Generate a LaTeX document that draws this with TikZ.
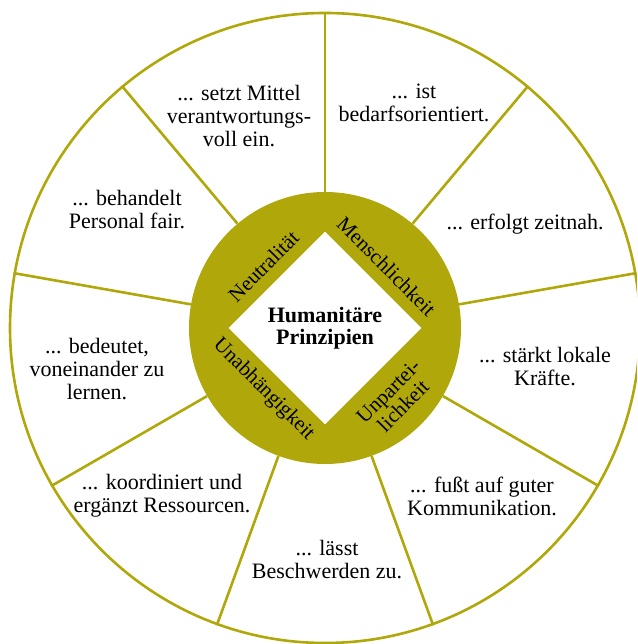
\documentclass[tikz,border=0pt]{standalone}
\usepackage{fontspec}
\setmainfont{Liberation Serif}
\usetikzlibrary{shapes.geometric,calc}
\definecolor{hpolive}{RGB}{176,167,11}
\begin{document}
\begin{tikzpicture}[x=1pt,y=1pt,
  spoke/.style={draw=hpolive,line width=2.6pt},
  txt/.style={align=center,font=\fontsize{22}{23}\selectfont,inner sep=0pt},
  ring/.style={align=center,font=\fontsize{21}{21}\selectfont,inner sep=0pt}]
\useasboundingbox (0,0) rectangle (637,644);
\clip (0,0) rectangle (637,644);
\coordinate (c) at (325,316);
\node[circle,draw=hpolive,line width=2.6pt,minimum size=630pt,inner sep=0pt] (outer) at (c) {};
\node[circle,fill=hpolive,minimum size=272pt,inner sep=0pt] (inner) at (c) {};
\foreach \a in {90,50,10,-30,-70,-110,-150,170,130}
  \draw[spoke] (inner.\a) -- (outer.\a);
\node[diamond,aspect=1,fill=white,minimum width=193pt,minimum height=193pt,inner sep=0pt,
  align=center,font=\bfseries\fontsize{22}{22}\selectfont] (core) at (c) {Humanitäre\\Prinzipien};
% ring labels
\node[ring,rotate=45] (neu) at ($(c)+(135:87)$) {Neutralität};
\node[ring,rotate=-45] (men) at ($(c)+(45:87)$) {Menschlichkeit};
\node[ring,rotate=-45] (una) at ($(c)+(225:87)$) {Unabhängigkeit};
\node[ring,rotate=45] (unp) at ($(c)+(-45:100)$) {Unpartei-\\lichkeit};
% segment texts
\node[txt] (t1) at (239,528) {... setzt Mittel\\verantwortungs-\\voll ein.};
\node[txt] (t2) at (414,541) {... ist\\bedarfsorientiert.};
\node[txt] (t3) at (525,420) {... erfolgt zeitnah.};
\node[txt] (t4) at (545,277) {... stärkt lokale\\Kräfte.};
\node[txt] (t5) at (482,148) {... fußt auf guter\\Kommunikation.};
\node[txt] (t6) at (327,84) {... lässt\\Beschwerden zu.};
\node[txt] (t7) at (162,148) {... koordiniert und\\ergänzt Ressourcen.};
\node[txt] (t8) at (97,275) {... bedeutet,\\voneinander zu\\lernen.};
\node[txt] (t9) at (127,434) {... behandelt\\Personal fair.};
\end{tikzpicture}
\end{document}
